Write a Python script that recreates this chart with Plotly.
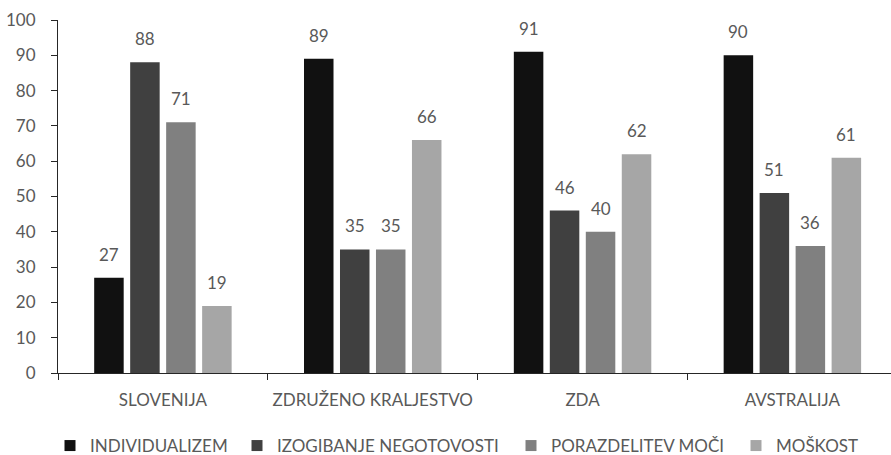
import plotly.graph_objects as go

# Hofstede dimensions by country
categories = ["SLOVENIJA", "ZDRUŽENO KRALJESTVO", "ZDA", "AVSTRALIJA"]
series_names = ["INDIVIDUALIZEM", "IZOGIBANJE NEGOTOVOSTI", "PORAZDELITEV MOČI", "MOŠKOST"]
individualizem = [27, 89, 91, 90]
izogibanje_negotovosti = [88, 35, 46, 51]
porazdelitev_moci = [71, 35, 40, 36]
moskost = [19, 66, 62, 61]
y_ticks = list(range(0, 101, 10))

series_values = [individualizem, izogibanje_negotovosti, porazdelitev_moci, moskost]
colors = ["#111111", "#404040", "#808080", "#a6a6a6"]

W, H = 891, 455
M_L, M_R, M_T, M_B = 58, 0, 20, 82
FONT = "Lato"
TXT = "#595959"
AXIS = "#262626"

# horizontal space taken by each category (last category runs past the right edge)
x_hi = 3.47
plot_w = W - M_L - M_R
cat_px = plot_w / (x_hi + 0.5)
bargap = 0.314
slot_px = cat_px * (1 - bargap) / len(series_values)

# legend text start positions (px from the left of the page)
legend_text_x = [90, 277, 551, 776]

fig = go.Figure()
legend_keys = ["legend", "legend2", "legend3", "legend4"]
for j, (name, vals, col) in enumerate(zip(series_names, series_values, colors)):
    fig.add_trace(go.Bar(
        x=categories, y=vals, name=name,
        marker=dict(color=col, line=dict(width=0)),
        showlegend=False,
    ))
    # legend entry with a square swatch
    fig.add_trace(go.Scatter(
        x=[None], y=[None], mode="markers", name=name,
        marker=dict(symbol="square", size=11, color=col, line=dict(width=0)),
        legend=legend_keys[j], showlegend=True, hoverinfo="skip",
    ))
    for cat, v in zip(categories, vals):
        fig.add_annotation(
            x=cat, y=v, text=str(v), showarrow=False,
            xref="x", yref="y", yanchor="bottom",
            xshift=(j - 1.5) * slot_px, yshift=11,
            font=dict(family=FONT, size=17, color=TXT),
        )

layout_legends = {}
for j, key in enumerate(legend_keys):
    layout_legends[key] = dict(
        orientation="h", xref="container", yref="container",
        x=(legend_text_x[j] - 40) / W, xanchor="left",
        y=1 - 446 / H, yanchor="middle",
        font=dict(family=FONT, size=17, color=TXT),
        bgcolor="rgba(0,0,0,0)", borderwidth=0,
    )

fig.update_layout(
    width=W, height=H,
    margin=dict(l=M_L, r=M_R, t=M_T, b=M_B, pad=0),
    paper_bgcolor="white", plot_bgcolor="white",
    barmode="group", bargap=bargap, bargroupgap=0.18,
    font=dict(family=FONT, size=17, color=TXT),
    showlegend=True,
    **layout_legends,
)

fig.update_xaxes(
    type="category", range=[-0.5, x_hi],
    tickson="boundaries", ticks="outside", ticklen=6, tickcolor=AXIS, tickwidth=1,
    showline=True, linecolor=AXIS, linewidth=1,
    showgrid=False, zeroline=False,
    ticklabelstandoff=12,
    tickfont=dict(family=FONT, size=17, color=TXT),
)
fig.update_yaxes(
    range=[0, 100], tickvals=y_ticks,
    ticks="outside", ticklen=6, tickcolor=AXIS, tickwidth=1,
    showline=True, linecolor=AXIS, linewidth=1,
    showgrid=False, zeroline=False,
    ticklabelstandoff=12,
    tickfont=dict(family=FONT, size=17, color=TXT),
)

fig.write_html("out.html")
